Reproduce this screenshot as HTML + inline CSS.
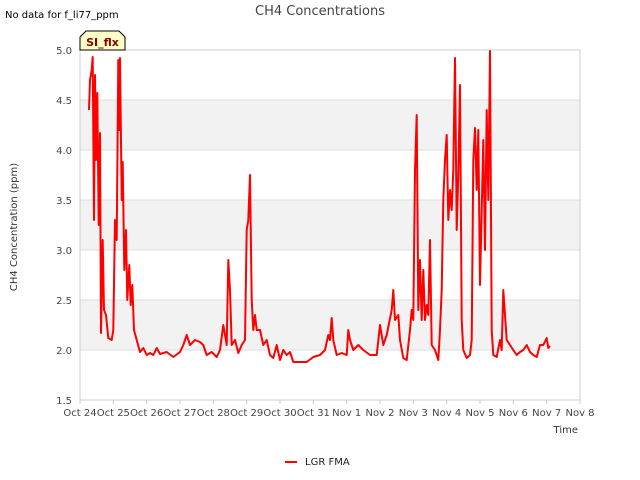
<!DOCTYPE html>
<html><head><meta charset="utf-8"><style>
body{margin:0;background:#fff;font-family:"DejaVu Sans","Liberation Sans",sans-serif;}
svg{display:block}
</style></head><body>
<svg id="chart" width="640" height="480" xmlns="http://www.w3.org/2000/svg">
<text x="5" y="18" font-size="10" fill="#000">No data for f_li77_ppm</text>
<text x="320" y="15" font-size="13" fill="#444" text-anchor="middle">CH4 Concentrations</text>
<g id="bands"></g>
<g id="grid"></g>
<g id="yticks"></g>
<g id="xticks"></g>
<rect x="80" y="50" width="500" height="350" fill="none" stroke="#ccc"/>
<path id="series" fill="none" stroke="#ff0000" stroke-width="2" stroke-linejoin="round"/>
<text x="17" y="227" font-size="10" fill="#333" text-anchor="middle" transform="rotate(-90 17 227)">CH4 Concentration (ppm)</text>
<text x="578" y="433" font-size="10" fill="#333" text-anchor="end">Time</text>
<g>
<path d="M80,50 L80,37 L86,31 L119,31 L125,37 L125,50 Z" fill="#ffffc8" stroke="#000" stroke-width="1"/>
<text x="102.5" y="46" font-size="11" font-weight="bold" fill="#8b0000" text-anchor="middle">SI_flx</text>
</g>
<g>
<line x1="285" y1="462" x2="297" y2="462" stroke="#ff0000" stroke-width="2"/>
<text x="305" y="465" font-size="10" fill="#222">LGR FMA</text>
</g>
</svg>
<script>
const yTicks=[1.5,2.0,2.5,3.0,3.5,4.0,4.5,5.0];
const xTickLabels=["Oct 24","Oct 25","Oct 26","Oct 27","Oct 28","Oct 29","Oct 30","Oct 31","Nov 1","Nov 2","Nov 3","Nov 4","Nov 5","Nov 6","Nov 7","Nov 8"];
const days=[0.27,0.3,0.35,0.38,0.42,0.45,0.48,0.52,0.56,0.6,0.63,0.68,0.72,0.78,0.85,0.95,1.0,1.05,1.1,1.15,1.18,1.2,1.25,1.28,1.33,1.38,1.42,1.48,1.52,1.57,1.62,1.7,1.8,1.9,2.0,2.1,2.2,2.3,2.4,2.6,2.8,3.0,3.1,3.2,3.3,3.45,3.6,3.7,3.8,3.95,4.1,4.2,4.3,4.4,4.45,4.5,4.55,4.65,4.75,4.85,4.95,5.0,5.05,5.1,5.15,5.2,5.25,5.3,5.4,5.5,5.6,5.7,5.8,5.9,6.0,6.1,6.2,6.3,6.4,6.6,6.8,7.0,7.2,7.35,7.45,7.5,7.55,7.6,7.7,7.85,8.0,8.05,8.1,8.2,8.35,8.5,8.7,8.9,9.0,9.1,9.2,9.35,9.4,9.45,9.55,9.6,9.7,9.8,9.9,9.95,10.0,10.05,10.1,10.15,10.2,10.25,10.3,10.35,10.4,10.45,10.5,10.55,10.65,10.75,10.8,10.85,10.9,10.95,11.0,11.05,11.1,11.15,11.2,11.25,11.3,11.35,11.4,11.45,11.5,11.6,11.7,11.75,11.8,11.85,11.9,11.95,12.0,12.05,12.1,12.15,12.2,12.25,12.3,12.35,12.4,12.5,12.6,12.65,12.7,12.8,12.9,13.0,13.1,13.2,13.3,13.4,13.5,13.6,13.7,13.8,13.9,14.0,14.05,14.1];
const ch4=[4.4,4.7,4.8,4.93,3.3,4.75,3.9,4.57,3.25,4.17,2.17,3.1,2.4,2.35,2.12,2.1,2.2,3.3,3.1,4.9,4.2,4.92,3.5,3.88,2.8,3.2,2.5,2.85,2.45,2.65,2.2,2.1,1.98,2.02,1.95,1.97,1.95,2.02,1.96,1.98,1.93,1.98,2.05,2.15,2.05,2.1,2.08,2.05,1.95,1.98,1.93,2.0,2.25,2.05,2.9,2.6,2.05,2.1,1.97,2.05,2.1,3.2,3.3,3.75,2.5,2.2,2.35,2.2,2.2,2.05,2.1,1.95,1.92,2.05,1.9,2.0,1.95,1.98,1.88,1.88,1.88,1.93,1.95,2.0,2.15,2.1,2.32,2.1,1.95,1.97,1.95,2.2,2.1,2.0,2.05,2.0,1.95,1.95,2.25,2.05,2.15,2.4,2.6,2.3,2.35,2.1,1.92,1.9,2.2,2.4,2.3,3.8,4.35,2.4,2.9,2.3,2.8,2.3,2.45,2.35,3.1,2.05,2.0,1.9,2.2,2.6,3.5,3.9,4.15,3.3,3.6,3.4,3.8,4.92,3.2,3.75,4.65,2.3,2.0,1.92,1.95,2.1,3.9,4.22,3.6,4.2,2.65,3.4,4.1,3.0,4.4,3.5,4.99,2.2,1.95,1.93,2.1,2.0,2.6,2.1,2.05,2.0,1.95,1.98,2.0,2.05,1.98,1.95,1.93,2.05,2.05,2.12,2.02,2.04];
const X=d=>80+d*500/15, Y=v=>400-(v-1.5)*100;
const NS="http://www.w3.org/2000/svg";
function mk(tag,attrs,parent,txt){const e=document.createElementNS(NS,tag);for(const k in attrs)e.setAttribute(k,attrs[k]);if(txt!==undefined)e.textContent=txt;document.getElementById(parent).appendChild(e);return e;}
for(let i=0;i<yTicks.length-1;i++){if(i%2===1){const b=mk('rect',{x:80,y:Y(yTicks[i+1]),width:500,height:Y(yTicks[i])-Y(yTicks[i+1]),fill:'#f2f2f2'},'bands');

}}
yTicks.forEach(v=>{const l=mk('line',{x1:80,x2:580,y1:Y(v),y2:Y(v),stroke:'#ddd'},'grid');


const t=mk('text',{x:72,y:Y(v)+4,'font-size':10,fill:'#444','text-anchor':'end'},'yticks',v.toFixed(1));

});
xTickLabels.forEach((s,i)=>{mk('line',{x1:X(i),x2:X(i),y1:400,y2:404,stroke:'#ccc'},'xticks');
const t=mk('text',{x:X(i),y:416,'font-size':10,fill:'#444','text-anchor':'middle'},'xticks',s);

});
document.getElementById('series').setAttribute('d',days.map((d,i)=>(i?'L':'M')+X(d).toFixed(1)+','+Y(ch4[i]).toFixed(1)).join(' '));
</script>
</body></html>
